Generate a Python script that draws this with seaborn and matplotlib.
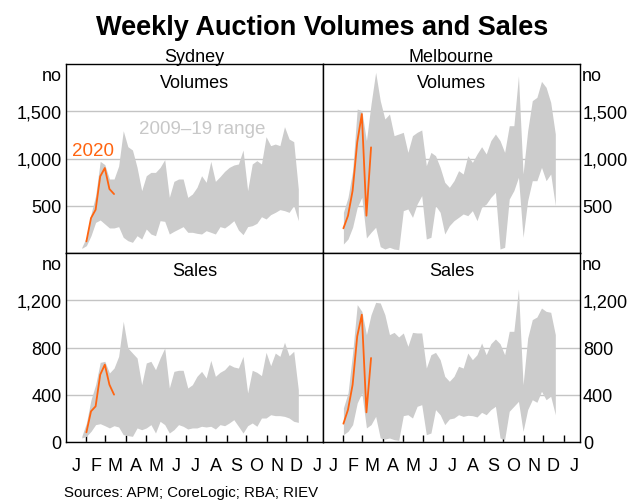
import matplotlib
matplotlib.use("Agg")
import matplotlib.pyplot as plt
import matplotlib.dates as mdates
import matplotlib.ticker as mticker
import seaborn as sns
import pandas as pd
import numpy as np

sns.set_theme(style="white")
plt.rcParams["font.family"] = ["Liberation Sans", "DejaVu Sans"]

# weekly auction Saturdays (nominal year) and 2020 observations
weeks = pd.date_range("2020-01-25", periods=48, freq="7D")
weeks_2020 = pd.date_range("2020-02-01", periods=7, freq="7D")

nan = np.nan
syd_vol_hi = [60, 166, 413, 607, 970, 935, 783, 783, 920, 1294, 1125, 1090, 906, 660, 818, 853,
              853, 906, 988, 589, 758, 783, 783, 589, 624, 695, 818, 748, 970, 758, 808, 864,
              906, 931, 942, 1090, 660, 942, 977, 942, 1231, 1136, 1153, 1136, 1337, 1206, 1178, 677]
syd_vol_lo = [49, 78, 183, 324, 349, 307, 265, 265, 279, 166, 130, 113, 183, 148, 254, 201,
              183, 342, 335, 201, 229, 254, 279, 219, 219, 208, 201, 236, 219, 201, 279, 265,
              300, 342, 243, 194, 279, 289, 314, 384, 360, 406, 430, 459, 448, 430, 501, 342]
mel_vol_hi = [nan, 430, 589, 871, 1524, 1506, 1189, 1577, 1912, 1612, 1418, 1471, 1242, 1259, 1277, 1065,
              1242, 1277, 1302, 924, 1065, 1030, 906, 748, 695, 765, 871, 836, 1030, 959, 1048, 1125,
              1048, 1189, 1259, 1189, 1065, 1347, 1347, 1876, 836, 1294, 1612, 1647, 1816, 1753, 1594, 1259]
mel_vol_lo = [nan, 95, 148, 272, 483, 589, 159, 219, 272, 67, 42, 60, 42, 35, 448, 466,
              377, 518, 607, 148, 166, 501, 430, 201, 289, 342, 377, 413, 395, 448, 342, 483,
              518, 589, 642, 42, 60, 571, 660, 801, 166, 554, 765, 765, 906, 765, 836, 501]
syd_sal_hi = [48, 161, 358, 485, 674, 683, 584, 626, 725, 1022, 796, 753, 711, 485, 669, 683,
              612, 711, 796, 457, 598, 607, 607, 457, 485, 556, 598, 542, 691, 556, 590, 612,
              655, 635, 626, 725, 415, 607, 590, 562, 759, 646, 753, 725, 844, 731, 768, 443]
syd_sal_lo = [34, 48, 90, 147, 155, 138, 119, 138, 127, 62, 54, 48, 119, 104, 119, 147,
              76, 175, 147, 76, 104, 147, 133, 110, 119, 119, 133, 127, 133, 110, 147, 138,
              161, 189, 133, 76, 138, 161, 133, 203, 203, 231, 223, 223, 217, 203, 175, 166]
mel_sal_hi = [nan, 288, 415, 753, 1163, 1106, 909, 1078, 1182, 1177, 1078, 909, 928, 889, 923, 810,
              928, 923, 923, 626, 739, 759, 697, 556, 514, 556, 641, 626, 753, 697, 739, 838,
              739, 832, 872, 832, 739, 937, 937, 1295, 485, 880, 1036, 1058, 1134, 1106, 1098, 909]
mel_sal_lo = [nan, 62, 90, 147, 330, 415, 119, 147, 217, 34, 25, 34, 20, 14, 223, 231,
              203, 302, 316, 62, 76, 274, 231, 147, 195, 203, 231, 217, 226, 223, 212, 251,
              231, 274, 302, 34, 20, 260, 302, 344, 90, 274, 358, 336, 429, 358, 387, 231]

syd_vol_2020 = [123, 370, 458, 811, 899, 677, 624]
mel_vol_2020 = [261, 395, 660, 1171, 1471, 395, 1118]
syd_sal_2020 = [82, 260, 302, 570, 655, 485, 401]
mel_sal_2020 = [155, 274, 485, 895, 1078, 251, 711]

month_labels = ["J", "F", "M", "A", "M", "J", "J", "A", "S", "O", "N", "D", "J"]

ORANGE = "#ff6410"
GREY = "#cccccc"
W, H = 643, 502

fig = plt.figure(figsize=(W / 100, H / 100), dpi=100)

panels = [
    # city, row, x0 px, y0 px, hi, lo, 2020, ylim, yticks
    ("Sydney", "Volumes", 66, 65, syd_vol_hi, syd_vol_lo, syd_vol_2020, 2000, [500, 1000, 1500]),
    ("Melbourne", "Volumes", 323, 65, mel_vol_hi, mel_vol_lo, mel_vol_2020, 2000, [500, 1000, 1500]),
    ("Sydney", "Sales", 66, 254, syd_sal_hi, syd_sal_lo, syd_sal_2020, 1600, [0, 400, 800, 1200]),
    ("Melbourne", "Sales", 323, 254, mel_sal_hi, mel_sal_lo, mel_sal_2020, 1600, [0, 400, 800, 1200]),
]

mids = pd.date_range("2020-01-01", periods=13, freq="MS") + pd.Timedelta(days=15)
starts = pd.date_range("2020-02-01", periods=12, freq="MS")

for city, kind, x0, y0, hi, lo, cur, ytop, yt in panels:
    ax = fig.add_axes([x0 / W, 1 - (y0 + 189) / H, 257 / W, 189 / H])
    ax.fill_between(weeks, np.array(lo, float), np.array(hi, float), color=GREY, lw=0, zorder=1)
    df = pd.DataFrame({"date": weeks_2020, "value": cur})
    sns.lineplot(data=df, x="date", y="value", ax=ax, color=ORANGE, lw=1.3, zorder=3)
    ax.set_xlim(pd.Timestamp("2020-01-01"), pd.Timestamp("2021-01-25 12:00"))
    ax.set_ylim(0, ytop)
    ax.set_yticks(yt)
    ax.yaxis.set_major_formatter(mticker.FuncFormatter(lambda v, p: f"{v:,.0f}"))
    ax.yaxis.grid(True, color="#c4c4c4", lw=1)
    ax.xaxis.grid(False)
    ax.set_axisbelow(True)
    ax.set_xlabel("")
    ax.set_ylabel("")
    for s in ax.spines.values():
        s.set_color("black")
        s.set_linewidth(1.0)
    ax.set_xticks(mdates.date2num(mids))
    ax.set_xticks(mdates.date2num(starts), minor=True)
    ax.set_xticklabels(month_labels)
    bottom = kind == "Sales"
    ax.tick_params(axis="x", which="major", length=0, pad=10.5, labelsize=13,
                   labelbottom=bottom, colors="black")
    ax.tick_params(axis="x", which="minor", direction="in", length=5 if bottom else 0,
                   width=1, color="black", bottom=True)
    if city == "Melbourne":
        ax.yaxis.tick_right()
        ax.tick_params(axis="y", length=0, pad=2, labelsize=13, colors="black")
        nx, ha = 582, "left"
    else:
        ax.tick_params(axis="y", length=0, pad=3, labelsize=13, colors="black")
        nx, ha = 62, "right"
    fig.text(nx / W, 1 - (y0 + 16) / H, "no", ha=ha, va="baseline", fontsize=13, color="black")
    ax.text(0.5, 1 - 22.5 / 189, kind, transform=ax.transAxes, ha="center", va="baseline",
            fontsize=13, color="black")
    if city == "Sydney" and kind == "Volumes":
        ax.text((202 - x0) / 257, 1 - (134 - y0) / 189, "2009–19 range", transform=ax.transAxes,
                ha="center", va="baseline", fontsize=13.5, color="#c8c8c8")
        ax.text((72 - x0) / 257, 1 - (156 - y0) / 189, "2020", transform=ax.transAxes,
                ha="left", va="baseline", fontsize=13.5, color=ORANGE)

fig.text(322 / W, 1 - 35 / H, "Weekly Auction Volumes and Sales", ha="center", va="baseline",
         fontsize=19.5, fontweight="bold", color="black")
fig.text(194 / W, 1 - 61.5 / H, "Sydney", ha="center", va="baseline", fontsize=13, color="black")
fig.text(451 / W, 1 - 61.5 / H, "Melbourne", ha="center", va="baseline", fontsize=13, color="black")
fig.text(64 / W, 1 - 497 / H, "Sources: APM; CoreLogic; RBA; RIEV", ha="left", va="baseline",
         fontsize=10.8, color="black")

fig.savefig("out.png", dpi=100)
